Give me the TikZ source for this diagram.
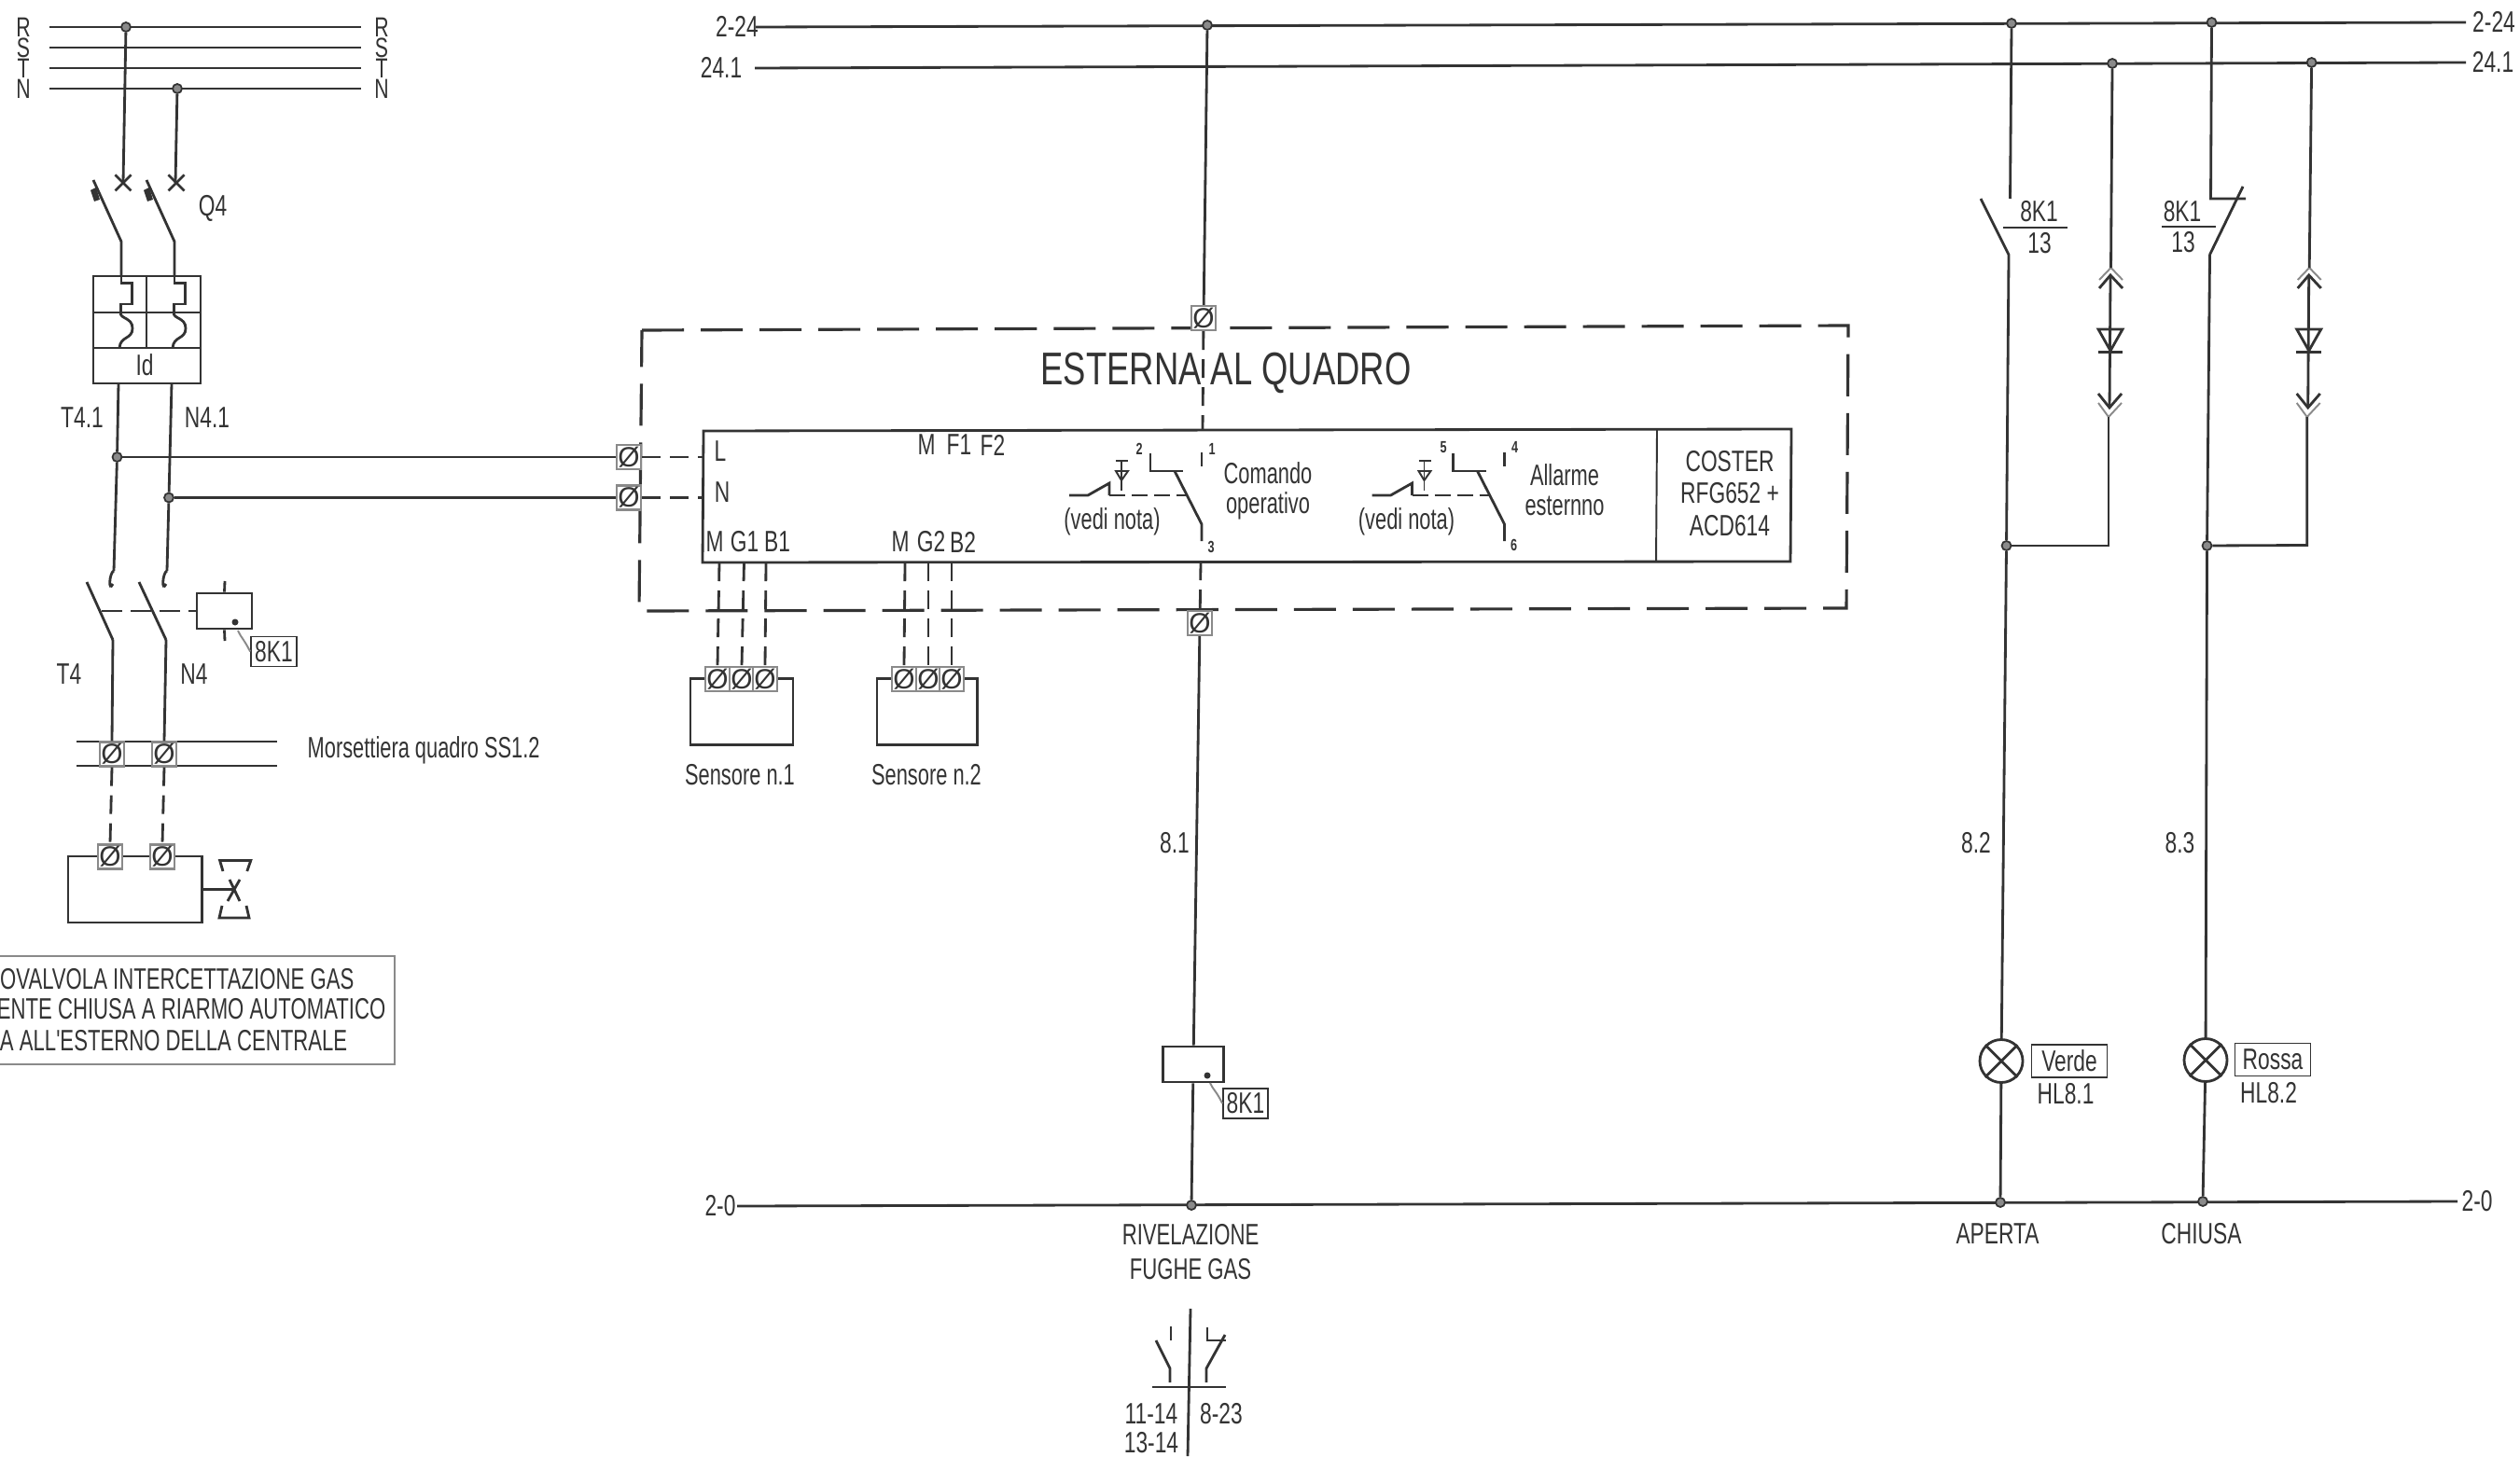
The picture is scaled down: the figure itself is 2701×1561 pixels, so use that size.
\documentclass[tikz,border=0pt]{standalone}
\usepackage{fontspec}
\setmainfont[FakeStretch=0.72]{Liberation Sans}
\newfontfamily\termfont{Liberation Sans}
\newfontfamily\lowfont[FakeStretch=0.69]{Liberation Sans}
\newfontfamily\capfont[FakeStretch=0.70]{Liberation Sans}
\newfontfamily\bigfont[FakeStretch=0.74]{Liberation Sans}
\definecolor{ink}{HTML}{333333}
\definecolor{dotgray}{HTML}{8A8A8A}
\tikzset{
    wire/.style={draw=ink,line width=0.8pt},
    thinwire/.style={draw=ink,line width=0.55pt},
    dashwire/.style={draw=ink,line width=0.8pt,dash pattern=on 0.2cm off 0.1cm},
    frameline/.style={draw=ink,line width=0.9pt,dash pattern=on 0.45cm off 0.18cm},
    lbl/.style={inner sep=0pt,text=ink,font=\fontsize{9}{10}\selectfont},
    lowlbl/.style={inner sep=0pt,text=ink,font=\lowfont\fontsize{9}{10}\selectfont},
    caplbl/.style={inner sep=0pt,text=ink,font=\capfont\fontsize{9}{10}\selectfont},
    phase/.style={inner sep=0pt,text=ink,font=\fontsize{8.4}{8}\selectfont},
    bigtxt/.style={inner sep=0pt,text=ink,font=\bigfont\fontsize{14}{16}\selectfont},
    pin/.style={inner sep=0pt,text=ink,font=\fontsize{5}{6}\selectfont\bfseries},
    junct/.style={circle,draw=ink,fill=dotgray,line width=0.5pt,inner sep=0pt,minimum size=0.1cm},
    term/.style={draw=dotgray,fill=white,line width=0.6pt,inner sep=0pt,minimum width=0.26cm,
        minimum height=0.26cm,text=ink,font=\termfont\fontsize{8.5}{9}\selectfont},
    tag/.style={draw=ink,fill=white,line width=0.5pt,inner sep=0pt,text=ink,
        minimum height=0.32cm,font=\fontsize{9}{10}\selectfont},
    lamp/.style={circle,draw=ink,line width=0.8pt,inner sep=0pt,minimum size=0.46cm},
}
\begin{document}
\begin{tikzpicture}[x=0.01cm,y=-0.01cm]
    \useasboundingbox (0,0) rectangle (2701,1561);

    % rete R S T N
    \foreach \n/\y in {R/29,S/51,T/73,N/95}{
        \node[phase] (left\n) at (25,\y) {\n};
        \node[phase] (right\n) at (409,\y) {\n};
        \coordinate (busl\n) at (53,\y);
        \coordinate (busr\n) at (387,\y);
        \draw[thinwire] (busl\n) -- (busr\n);
    }
    \node[junct] (jr) at (135,29) {};
    \node[junct] (jn) at (190,95) {};

    % interruttore differenziale Q4
    \node[lbl] (q4) at (228,223) {Q4};
    \coordinate (crossa) at (132,196);
    \coordinate (crossb) at (188,196);
    \draw[wire] (jr) -- (crossa);
    \draw[wire] (jn) -- (crossb);
    \foreach \n/\s in {a/0,b/57}{
        \begin{scope}[shift={(\s,0)}]
            \draw[wire] (123.5,187.5) -- (140.5,204.5) (123.5,204.5) -- (140.5,187.5);
            \draw[wire] (100,193) -- (130,259) -- (130,296);
            \fill[ink] (97,204) -- (103,201) -- (107,214) -- (101,216) -- cycle;
            \draw[wire] (130,296) -- (130,303.5) -- (141.6,303.5) -- (141.6,326) -- (129.4,326) -- (129.4,335);
            \draw[wire] (129.4,335) .. controls (128,342) and (142,340) .. (142,352)
                .. controls (142,364) and (129,360) .. (128,373);
        \end{scope}
    }
    \draw[wire] (100,296) rectangle (215,411);
    \draw[wire] (100,335) -- (215,335);
    \draw[wire] (100,373) -- (215,373);
    \draw[wire] (157,296) -- (157,373);
    \node[lbl] (id) at (155,391) {Id};
    \node[lbl] (t41) at (88,448) {T4.1};
    \node[lbl] (n41) at (222,448) {N4.1};
    \node[junct] (jt) at (125.5,490) {};
    \node[junct] (jnn) at (181,533.5) {};
    \coordinate (hooka) at (122,612);
    \coordinate (hookb) at (179,612);
    \draw[wire] (127,411) -- (jt) -- (hooka);
    \draw[wire] (184,411) -- (jnn) -- (hookb);
    \foreach \n in {a,b}{
        \draw[wire] (hook\n) .. controls ++(-5,2) and ++(-5,10) .. ++(-1,14);
    }

    % teleruttore
    \node[draw=ink,line width=0.8pt,inner sep=0pt,minimum width=0.59cm,minimum height=0.38cm] (coil) at (240.5,655) {};
    \draw[wire] (241,623) -- (coil.north);
    \draw[wire] (coil.south) -- (241,687);
    \fill[ink] (252,667) circle (3.5);
    \node[tag,minimum width=0.49cm] (tagcoil) at (293.5,698.5) {8K1};
    \draw[thinwire,draw=dotgray] (255,676) .. controls (258,683) and (262,686) .. (tagcoil.west);
    \coordinate (polea) at (121,686);
    \coordinate (poleb) at (178,686);
    \draw[wire] (93,624) -- (polea);
    \draw[wire] (149,624) -- (poleb);
    \draw[wire,dash pattern=on 0.22cm off 0.09cm] (109,655) -- (coil.west);
    \node[lbl] (t4) at (74,722.5) {T4};
    \node[lbl] (n4) at (208,722.5) {N4};

    % morsettiera
    \draw[thinwire] (82,795) -- (297,795);
    \draw[thinwire] (82,821) -- (297,821);
    \node[term] (mt) at (120,808.5) {Ø};
    \node[term] (mn) at (176,808.5) {Ø};
    \draw[wire] (polea) -- (mt.north);
    \draw[wire] (poleb) -- (mn.north);
    \node[lowlbl,anchor=west] (morstxt) at (329,804) {Morsettiera quadro SS1.2};

    % elettrovalvola
    \draw[wire] (73,918) rectangle (216.6,989);
    \node[term] (vt) at (118,918.5) {Ø};
    \node[term] (vn) at (174,918.5) {Ø};
    \draw[dashwire] (mt.south) -- (vt.north);
    \draw[dashwire] (mn.south) -- (vn.north);
    \draw[wire] (216.6,953.6) -- (250,953.6);
    \draw[wire] (239,934) -- (235.6,922.5) -- (268.8,922.5) -- (264.8,934);
    \draw[wire] (246,943) -- (257,966) (257,943) -- (244,966);
    \draw[wire] (238,971) -- (235,984) -- (267,984) -- (264,971);
    \draw[thinwire,draw=dotgray] (0,1025) -- (423,1025) -- (423,1141) -- (0,1141);
    \node[caplbl,anchor=east] (valvea) at (380,1050) {OVALVOLA INTERCETTAZIONE GAS};
    \node[caplbl,anchor=east] (valveb) at (414,1082) {ENTE CHIUSA A RIARMO AUTOMATICO};
    \node[caplbl,anchor=east] (valvec) at (373,1116) {A ALL'ESTERNO DELLA CENTRALE};

    % sbarre 2-24, 24.1, 2-0
    \node[lbl] (lab24l) at (790,28) {2-24};
    \node[lbl] (lab241l) at (773,72) {24.1};
    \node[lbl] (lab0l) at (772,1293) {2-0};
    \node[lbl] (lab24r) at (2673,23) {2-24};
    \node[lbl] (lab241r) at (2672,66) {24.1};
    \node[lbl] (lab0r) at (2655,1288) {2-0};
    \draw[wire] (810,29) -- (2643,24);
    \draw[wire] (809,73) -- (2643,67);
    \draw[wire] (790,1293) -- (2634,1288);
    \node[junct] (jbus) at (1294,27) {};
    \node[junct] (jka) at (2156,25) {};
    \node[junct] (jkb) at (2370.5,24) {};
    \node[junct] (jla) at (2264,68) {};
    \node[junct] (jlb) at (2477.6,67) {};
    \node[junct] (jrel) at (1277,1292) {};
    \node[junct] (jaa) at (2144,1289) {};
    \node[junct] (jab) at (2361,1288) {};

    % riquadro esterno
    \draw[frameline] (688,354) -- (1981,349) -- (1979,652) -- (685,655) -- cycle;
    \node[bigtxt] (esterna) at (1314,400) {ESTERNA AL QUADRO};
    \node[term] (tl) at (674,490) {Ø};
    \node[term] (tn) at (674,533.5) {Ø};
    \node[term] (ttop) at (1290,341) {Ø};
    \node[term] (tbot) at (1286,668) {Ø};
    \draw[wire] (jt) -- (tl);
    \draw[wire] (jnn) -- (tn);
    \draw[wire] (jbus) -- (ttop);

    % centralina
    \draw[wire] (754,462) -- (1920,460) -- (1919,602) -- (753,603) -- cycle;
    \draw[thinwire] (1776,460.5) -- (1775,602.5);
    \coordinate (boxl) at (754,490);
    \coordinate (boxn) at (754,533.5);
    \coordinate (boxtop) at (1289,461);
    \coordinate (boxbot) at (1287,602);
    \draw[dashwire] (tl) -- (boxl);
    \draw[dashwire] (tn) -- (boxn);
    \draw[dashwire] (ttop) -- (boxtop);
    \draw[dashwire] (boxbot) -- (tbot);
    \foreach \n/\x/\y/\t in {a/772/484/L,b/774/528/N,c/993/477/M,d/1028/477/F1,e/1064/477/F2,
            f/766/581/M,g/798/581/G1,h/833/581/B1,i/965/581/M,j/998/581/G2,k/1032/581/B2}{
        \node[lbl] (pin\n) at (\x,\y) {\t};
    }
    \foreach \n/\s/\v in {a/0/1192,b/324.5/1507.5}{
        \begin{scope}[shift={(\s,-1)}]
            \draw[wire] (1233,487) -- (1233,506) -- (1268,506);
            \draw[wire] (1259,506) -- (1288,563) -- (1288,581);
            \draw[wire] (1288,486) -- (1288,501);
            \draw[wire] (1146,532) -- (1166,532) -- (1189,519) -- (1189,532);
            \draw[wire,dash pattern=on 0.17cm off 0.07cm] (1189,532) -- (1272,532);
            \draw[thinwire] (1196,495) -- (1209,495) (1202,495) -- (1202,527);
            \draw[thinwire] (1196,506) -- (1209,506) -- (1202,516) -- cycle;
        \end{scope}
        \node[lowlbl] (nota\n) at (\v,559) {(vedi nota)};
    }
    \node[pin] (p2) at (1221,481) {2};
    \node[pin] (p1) at (1299,481) {1};
    \node[pin] (p3) at (1298,586) {3};
    \node[pin] (p5) at (1547,480) {5};
    \node[pin] (p4) at (1623.5,479) {4};
    \node[pin] (p6) at (1622.5,584) {6};
    \node[lowlbl,align=center,font=\lowfont\fontsize{9}{9.2}\selectfont] (comando) at (1359,526) {Comando\\operativo};
    \node[lowlbl,align=center,font=\lowfont\fontsize{9}{9.2}\selectfont] (allarme) at (1677,525) {Allarme\\esternno};
    \node[lbl,align=center,font=\fontsize{9}{9.7}\selectfont] (coster) at (1854,529) {COSTER\\RFG652 +\\ACD614};

    % sensori
    \draw[wire] (740,727.5) rectangle (850,798.5);
    \draw[wire] (940,727.5) rectangle (1047.5,798.5);
    \foreach \n/\x/\xt in {a/769/771,b/795/797.5,c/820/821,d/969/970,e/995/995,f/1020/1020}{
        \node[term,minimum width=0.255cm] (s\n) at (\x,728) {Ø};
        \coordinate (out\n) at (\xt,603);
        \draw[dashwire] (out\n) -- (s\n.north);
    }
    \node[lowlbl] (sensa) at (793,831) {Sensore n.1};
    \node[lowlbl] (sensb) at (993,831) {Sensore n.2};

    % rivelazione fughe gas
    \node[draw=ink,line width=0.8pt,inner sep=0pt,minimum width=0.65cm,minimum height=0.38cm] (relay) at (1279,1141) {};
    \fill[ink] (1294,1153) circle (3.5);
    \node[tag,minimum width=0.48cm] (tagrel) at (1335,1183) {8K1};
    \draw[thinwire,draw=dotgray] (1297,1161) .. controls (1300,1168) and (1304,1170) .. (tagrel.west);
    \draw[wire] (tbot) -- (relay);
    \draw[wire] (relay) -- (jrel);
    \node[lbl] (w81) at (1259,904) {8.1};
    \node[lbl,align=center,font=\capfont\fontsize{9}{10.6}\selectfont] (rivela) at (1276,1342) {RIVELAZIONE\\FUGHE GAS};

    % riferimenti contatti
    \draw[wire] (1276,1403) -- (1273,1561);
    \draw[wire] (1235,1487) -- (1314,1487);
    \draw[wire] (1254,1482) -- (1254,1467) -- (1239,1437);
    \draw[wire] (1255,1422) -- (1255,1437);
    \draw[wire] (1293,1482) -- (1293,1467) -- (1313,1431);
    \draw[wire] (1294,1423) -- (1294,1437) -- (1314,1437);
    \node[lbl] (c11) at (1234,1516) {11-14};
    \node[lbl] (c8) at (1309,1516) {8-23};
    \node[lbl] (c13) at (1234,1547) {13-14};

    % colonne 8K1
    \coordinate (ka) at (2154.5,213);
    \coordinate (kb) at (2369.5,213);
    \coordinate (pa) at (2153,273);
    \coordinate (pb) at (2368.5,273);
    \node[junct] (ja) at (2150.5,585) {};
    \node[junct] (jb) at (2365.5,585) {};
    \draw[wire] (jka) -- (ka);
    \draw[wire] (2123,213) -- (pa) -- (ja);
    \draw[wire] (jkb) -- (kb) -- (2407,213);
    \draw[wire] (pb) -- (2404,200) (pb) -- (jb);
    \draw[thinwire] (2147,244) -- (2216,244);
    \draw[thinwire] (2317,243) -- (2374.5,243);
    \node[lbl] (ka1) at (2185.5,227) {8K1};
    \node[lbl] (ka2) at (2186,261) {13};
    \node[lbl] (kb1) at (2339,227) {8K1};
    \node[lbl] (kb2) at (2340,260) {13};

    % diodi
    \foreach \n/\s in {a/0,b/212.7}{
        \begin{scope}[shift={(\s,0)}]
            \coordinate (ledtop\n) at (2262.5,287);
            \coordinate (ledbot\n) at (2260,447);
            \draw[thinwire,draw=dotgray] (2250,300) -- (ledtop\n) -- (2275,300);
            \draw[wire] (2250,309) -- (2262,295) -- (2275,309);
            \draw[wire] (2262,295) -- (2261,437);
            \draw[wire] (2249,353) -- (2275,353) -- (2262,376) -- cycle;
            \draw[wire] (2248.5,377.5) -- (2275,377.5);
            \draw[wire] (2249,422) -- (2261,437) -- (2274,422);
            \draw[thinwire,draw=dotgray] (2249,432) -- (ledbot\n) -- (2274,432);
        \end{scope}
    }
    \draw[wire] (jla) -- (ledtopa);
    \draw[wire] (jlb) -- (ledtopb);
    \draw[wire] (ledbota) -- (2260,585) -- (ja);
    \draw[wire] (ledbotb) -- (2472.7,584.5) -- (jb);

    % lampade
    \node[lamp] (la) at (2145,1137.5) {};
    \node[lamp] (lb) at (2364,1136.5) {};
    \foreach \n in {a,b}{
        \draw[wire] (l\n.45) -- (l\n.225) (l\n.135) -- (l\n.315);
    }
    \draw[wire] (ja) -- (la);
    \draw[wire] (la) -- (jaa);
    \draw[wire] (jb) -- (lb);
    \draw[wire] (lb) -- (jab);
    \node[tag,minimum width=0.81cm,minimum height=0.35cm] (verde) at (2218,1137.5) {Verde};
    \node[tag,minimum width=0.81cm,minimum height=0.35cm] (rossa) at (2436,1136) {Rossa};
    \node[lbl] (hla) at (2214,1173) {HL8.1};
    \node[lbl] (hlb) at (2431.5,1172) {HL8.2};
    \node[lbl] (w82) at (2118,904) {8.2};
    \node[lbl] (w83) at (2336.5,904) {8.3};
    \node[lbl] (aperta) at (2141,1323) {APERTA};
    \node[lbl] (chiusa) at (2359.5,1322.5) {CHIUSA};
\end{tikzpicture}
\end{document}
